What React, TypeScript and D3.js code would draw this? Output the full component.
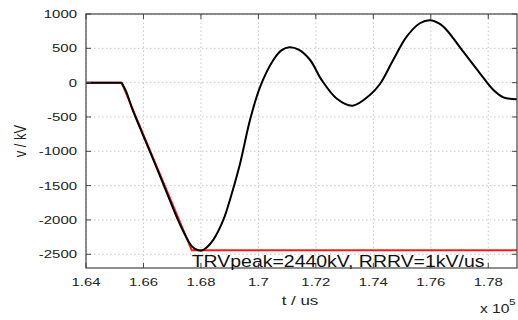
import React from 'react';
import * as d3 from 'd3';

// time in units of 1e5 us, voltage in kV
const tTrv = [1.64, 1.6524, 1.6768, 1.79];
const vTrv = [0, 0, -2440, -2440];

// flat pre-interruption part, then the recovery voltage oscillation
const tFlat = [1.64, 1.6524];
const vFlat = [0, 0];

const tWave = [
  1.6524, 1.654, 1.656, 1.66, 1.664, 1.668, 1.672, 1.675, 1.677, 1.679, 1.6803,
  1.682, 1.6843, 1.6878, 1.6905, 1.6935, 1.6971, 1.7006, 1.7052, 1.708, 1.7108, 1.714,
  1.718, 1.722, 1.7272, 1.7328, 1.7388, 1.7423, 1.7469, 1.7516, 1.7562, 1.7597, 1.763,
  1.7655, 1.7713, 1.7771, 1.7818, 1.7853, 1.79,
];
const vWave = [
  0, -130, -370, -780, -1180, -1590, -2000, -2260, -2390, -2440, -2445,
  -2400, -2290, -2000, -1650, -1200, -540, -60, 330, 470, 515, 480,
  330, 40, -230, -335, -180, -20, 330, 670, 865, 910, 860,
  767, 451, 136, -107, -214, -243,
];

const xTicks = [1.64, 1.66, 1.68, 1.7, 1.72, 1.74, 1.76, 1.78];
const yTicks = [-2500, -2000, -1500, -1000, -500, 0, 500, 1000];

const W = 518;
const H = 320;
const margin = { left: 86, right: 1, top: 14, bottom: 52 };
const SX = 1.3; // the picture is stretched horizontally

export default function App() {
  const x = d3.scaleLinear().domain([1.64, 1.79]).range([margin.left, W - margin.right]);
  const y = d3.scaleLinear().domain([-2700, 1000]).range([H - margin.bottom, margin.top]);
  const [x0, x1] = x.range();
  const [y0, y1] = y.range(); // y0 bottom, y1 top

  const pts = (ts: number[], vs: number[]) => ts.map((t, i) => [t, vs[i]]) as [number, number][];
  const straight = d3.line<[number, number]>().x(d => x(d[0])).y(d => y(d[1]));
  const smooth = d3.line<[number, number]>()
    .x(d => x(d[0]))
    .y(d => y(d[1]))
    .curve(d3.curveCatmullRom.alpha(0.5));

  const flat = straight(pts(tFlat, vFlat));
  const wave = smooth(pts(tWave, vWave));
  const trv = straight(pts(tTrv, vTrv));

  const font = 'Liberation Sans, Arial, sans-serif';
  const axisColor = '#444';
  const tl = 5;

  return (
    <svg width={W} height={H} style={{ position: 'absolute', left: 0, top: 0, background: '#fff' }}
      fontFamily={font}>
      {/* grid */}
      <g stroke="#c8c8c8" strokeWidth={1} strokeDasharray="1.5,2.5">
        {xTicks.map(t => (
          <line key={'gx' + t} x1={x(t)} x2={x(t)} y1={y0} y2={y1} />
        ))}
        {yTicks.map(v => (
          <line key={'gy' + v} x1={x0} x2={x1} y1={y(v)} y2={y(v)} />
        ))}
      </g>

      {/* curves */}
      <path d={trv ?? ''} fill="none" stroke="#ff1a1a" strokeWidth={2} />
      <path d={(flat ?? '') + (wave ?? '')} fill="none" stroke="#000" strokeWidth={2} strokeLinejoin="round" />

      {/* box and ticks */}
      <rect x={x0} y={y1} width={x1 - x0} height={y0 - y1} fill="none" stroke={axisColor} strokeWidth={1.2} />
      <g stroke={axisColor} strokeWidth={1}>
        {xTicks.map(t => (
          <g key={'tx' + t}>
            <line x1={x(t)} x2={x(t)} y1={y0} y2={y0 - tl} />
            <line x1={x(t)} x2={x(t)} y1={y1} y2={y1 + tl} />
          </g>
        ))}
        {yTicks.map(v => (
          <g key={'ty' + v}>
            <line x1={x0} x2={x0 + tl} y1={y(v)} y2={y(v)} />
            <line x1={x1} x2={x1 - tl} y1={y(v)} y2={y(v)} />
          </g>
        ))}
      </g>

      {/* tick labels */}
      <g fill="#222" fontSize={11.5}>
        {xTicks.map(t => (
          <text key={'lx' + t} transform={`translate(${x(t)},${y0 + 18}) scale(${SX},1)`} textAnchor="middle">
            {d3.format('~g')(t)}
          </text>
        ))}
        {yTicks.map(v => (
          <text key={'ly' + v} transform={`translate(${x0 - 9},${y(v) + 4}) scale(${SX},1)`} textAnchor="end">
            {v}
          </text>
        ))}
      </g>

      {/* annotation */}
      <text transform={`translate(${x(1.6768)},${y0 - 1}) scale(1.18,1)`} fontSize={16.5} fill="#111">
        TRVpeak=2440kV, RRRV=1kV/us
      </text>

      {/* axis titles */}
      <text transform={`translate(300,305) scale(${SX},1)`} textAnchor="middle" fontSize={13} fill="#222">
        t / us
      </text>
      <text transform={`translate(26,${(y0 + y1) / 2}) rotate(-90) scale(1,${SX})`} textAnchor="middle"
        fontSize={13} fill="#222">
        v / kV
      </text>
      <text transform={`translate(480,313) scale(${SX},1)`} fontSize={12} fill="#222">
        x 10
      </text>
      <text transform={`translate(509,305) scale(${SX},1)`} fontSize={9} fill="#222">
        5
      </text>
    </svg>
  );
}
